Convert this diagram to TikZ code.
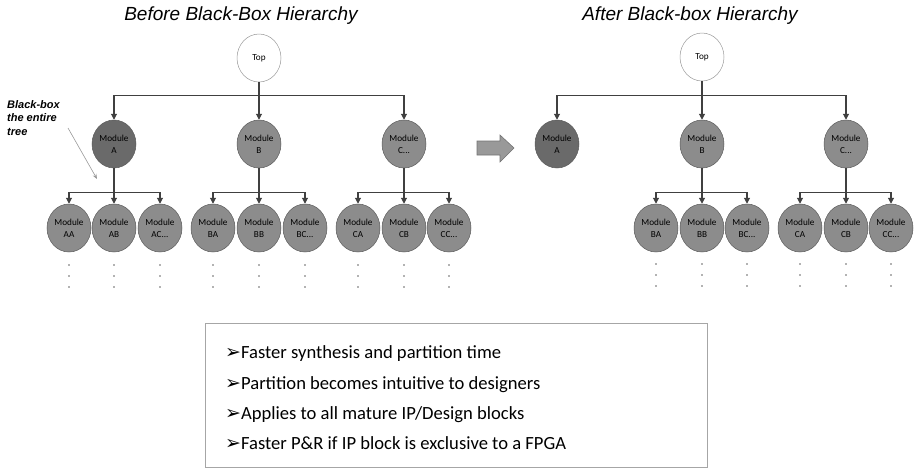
\documentclass[tikz,border=0pt]{standalone}
\usepackage{fontspec}
\setmainfont{Carlito}
\newfontfamily\titlefont{Liberation Sans}
\newfontfamily\symfont{DejaVu Sans}
\usetikzlibrary{shapes.geometric,arrows.meta,shadows}
\definecolor{modfill}{HTML}{8C8C8C}
\definecolor{modfilldark}{HTML}{6A6A6A}
\definecolor{modline}{HTML}{5A5A5A}
\definecolor{connline}{HTML}{404040}
\newcommand{\tdots}{...}
\newcommand{\bulletarrow}{{\symfont\fontsize{19}{20}\selectfont ➢}}
\tikzset{
  modnode/.style={ellipse, minimum width=44pt, minimum height=48pt, inner sep=0pt,
    fill=modfill, draw=modline, line width=0.5pt, align=center,
    font=\fontsize{9.2}{11.7}\selectfont, text=black},
  darkmod/.style={modnode, fill=modfilldark},
  topnode/.style={modnode, fill=white, draw=black!40},
  conn/.style={draw=connline, line width=1.1pt, -{Triangle[length=6pt,width=6pt]}},
  title/.style={font=\titlefont\itshape\fontsize{19}{22}\selectfont},
  bullet/.style={anchor=base west, inner sep=0pt, font=\fontsize{18.6}{22}\selectfont},
  vdot/.style={fill=black!60, draw=none, circle, inner sep=0pt, minimum size=1.6pt},
}
\begin{document}
\begin{tikzpicture}[x=1pt, y=-1pt]
\useasboundingbox (0,0) rectangle (914,469);

% ---------- titles ----------
\node[title] (t1) at (241,16) {Before Black-Box Hierarchy};
\node[title] (t2) at (690,16) {After Black-box Hierarchy};

% ---------- left tree ----------
\node[topnode] (Ltop) at (259,58) {Top};
\node[darkmod] (LA) at (114,144) {Module\\A};
\node[modnode] (LB) at (259,144) {Module\\B};
\node[modnode] (LC) at (404,144) {Module\\C\tdots};
\foreach \n/\x/\t in {LAA/69/AA, LAB/114/AB, LAC/160/AC\tdots, LBA/213/BA, LBB/259/BB, LBC/305/BC\tdots,
                      LCA/358/CA, LCB/404/CB, LCC/449/CC\tdots}{
  \node[modnode] (\n) at (\x,228) {Module\\\t};
  \foreach \yy in {265,276,287} \node[vdot] at (\x,\yy) {};
}
\draw[conn] (Ltop.south) -- ++(0,13) -| (LA.north);
\draw[conn] (Ltop.south) -- (LB.north);
\draw[conn] (Ltop.south) -- ++(0,13) -| (LC.north);
\foreach \p/\a/\b/\c in {LA/LAA/LAB/LAC, LB/LBA/LBB/LBC, LC/LCA/LCB/LCC}{
  \draw[conn] (\p.south) -- ++(0,24) -| (\a.north);
  \draw[conn] (\p.south) -- (\b.north);
  \draw[conn] (\p.south) -- ++(0,24) -| (\c.north);
}

% ---------- black-box annotation ----------
\node[anchor=north west, align=left, font=\titlefont\bfseries\itshape\fontsize{11}{13.5}\selectfont,
      inner sep=0pt] (bbl) at (7,100) {Black-box\\the entire\\tree};
\coordinate (bbs) at (68,128);
\coordinate (bbe) at (97,179);
\draw[black!40, line width=0.6pt, -{Stealth[length=5pt,width=4pt]}] (bbs) -- (bbe);

% ---------- transition arrow ----------
\draw[fill=black!40, draw=black!55, line width=0.6pt]
  (477,141) -- (500,141) -- (500,135) -- (514,148) -- (500,162) -- (500,155) -- (477,155) -- cycle;

% ---------- right tree ----------
\node[topnode] (Rtop) at (702,57) {Top};
\node[darkmod] (RA) at (557,144) {Module\\A};
\node[modnode] (RB) at (702,144) {Module\\B};
\node[modnode] (RC) at (846,144) {Module\\C\tdots};
\foreach \n/\x/\t in {RBA/656/BA, RBB/702/BB, RBC/747/BC\tdots,
                      RCA/800/CA, RCB/846/CB, RCC/891/CC\tdots}{
  \node[modnode] (\n) at (\x,228) {Module\\\t};
  \foreach \yy in {264,275,286} \node[vdot] at (\x,\yy) {};
}
\draw[conn] (Rtop.south) -- ++(0,14) -| (RA.north);
\draw[conn] (Rtop.south) -- (RB.north);
\draw[conn] (Rtop.south) -- ++(0,14) -| (RC.north);
\foreach \p/\a/\b/\c in {RB/RBA/RBB/RBC, RC/RCA/RCB/RCC}{
  \draw[conn] (\p.south) -- ++(0,24) -| (\a.north);
  \draw[conn] (\p.south) -- (\b.north);
  \draw[conn] (\p.south) -- ++(0,24) -| (\c.north);
}

% ---------- benefits box ----------
\node[draw=black!35, line width=0.8pt, minimum width=502pt, minimum height=144pt,
      anchor=north west, inner sep=0pt] (box) at (205,323) {};
\node[bullet] (b1) at (225,358) {\bulletarrow Faster synthesis and partition time};
\node[bullet] (b2) at (225,389) {\bulletarrow Partition becomes intuitive to designers};
\node[bullet] (b3) at (225,419) {\bulletarrow Applies to all mature IP/Design blocks};
\node[bullet] (b4) at (225,449) {\bulletarrow Faster P\&R if IP block is exclusive to a FPGA};
\end{tikzpicture}
\end{document}
